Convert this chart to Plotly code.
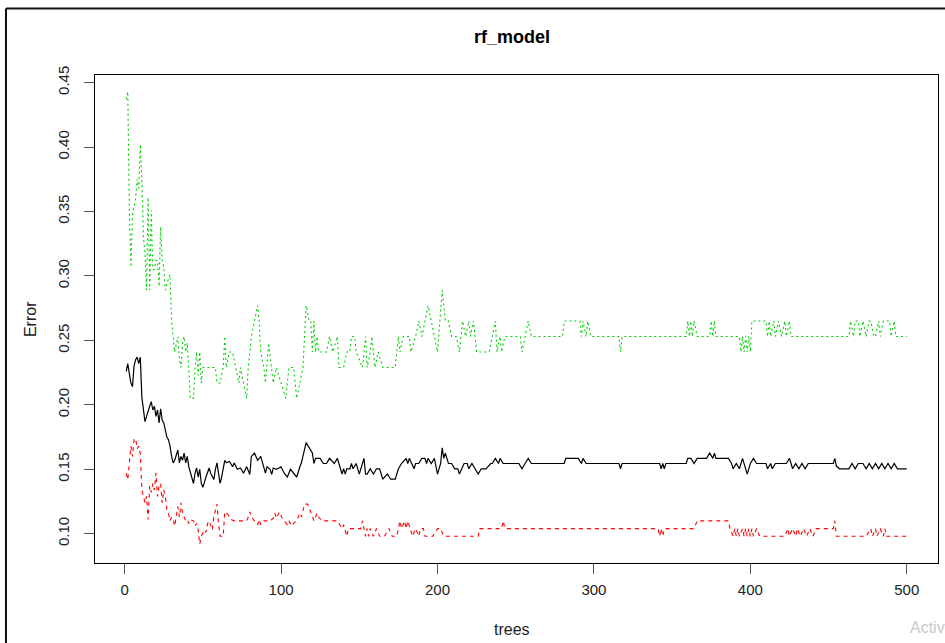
import plotly.graph_objects as go

# ---------------- data ----------------
title_text = "rf_model"
x_label = "trees"
y_label = "Error"
watermark = "Activ"
x_ticks = [0, 100, 200, 300, 400, 500]
y_ticks = [0.10, 0.15, 0.20, 0.25, 0.30, 0.35, 0.40, 0.45]
y_tick_labels = ["0.10", "0.15", "0.20", "0.25", "0.30", "0.35", "0.40", "0.45"]

# OOB error (black, solid)
oob_trees = [1, 2, 3, 4, 5, 6, 7, 8, 9, 10,
             11, 12, 13, 14, 15, 16, 17, 18, 19, 20,
             21, 22, 23, 24, 25, 26, 27, 28, 29, 30,
             31, 32, 34, 35, 36, 37, 38, 39, 40, 41,
             42, 43, 44, 45, 46, 47, 48, 49, 50, 52,
             53, 54, 55, 57, 58, 59, 60, 61, 62, 64,
             65, 67, 69, 70, 72, 74, 76, 78, 80, 81,
             83, 85, 87, 89, 90, 91, 93, 94, 95, 97,
             100, 102, 104, 106, 108, 110, 112, 113, 116, 118,
             120, 121, 122, 125, 127, 129, 131, 134, 136, 138,
             139, 140, 141, 142, 144, 145, 146, 148, 150, 151,
             153, 154, 155, 157, 159, 161, 163, 165, 168, 170,
             173, 175, 177, 180, 181, 182, 185, 186, 188, 190,
             192, 193, 194, 196, 198, 200, 202, 203, 204, 205,
             207, 209, 211, 213, 214, 217, 219, 220, 222, 224,
             226, 228, 231, 234, 235, 237, 239, 240, 242, 252,
             254, 256, 258, 260, 281, 282, 290, 292, 293, 295,
             316, 317, 318, 342, 343, 344, 345, 346, 359, 360,
             362, 364, 366, 372, 374, 376, 377, 378, 386, 388,
             389, 391, 393, 395, 397, 398, 400, 402, 404, 410,
             411, 413, 414, 416, 423, 425, 426, 427, 429, 431,
             433, 435, 437, 453, 454, 455, 457, 463, 465, 467,
             469, 472, 474, 476, 478, 480, 482, 484, 486, 488,
             490, 492, 494, 500]
oob_error = [0.226, 0.232, 0.224, 0.217, 0.214, 0.230, 0.235, 0.237, 0.232, 0.237,
             0.206, 0.196, 0.187, 0.191, 0.196, 0.199, 0.2025, 0.196, 0.199, 0.191,
             0.196, 0.186, 0.197, 0.188, 0.186, 0.181, 0.175, 0.173, 0.168, 0.160,
             0.155, 0.157, 0.165, 0.155, 0.160, 0.157, 0.1625, 0.155, 0.160, 0.152,
             0.147, 0.144, 0.139, 0.147, 0.151, 0.144, 0.150, 0.139, 0.136, 0.144,
             0.147, 0.151, 0.147, 0.142, 0.150, 0.155, 0.147, 0.139, 0.144, 0.157,
             0.155, 0.156, 0.152, 0.155, 0.150, 0.151, 0.147, 0.152, 0.146, 0.160,
             0.1625, 0.157, 0.160, 0.150, 0.147, 0.152, 0.150, 0.146, 0.151, 0.150,
             0.152, 0.147, 0.144, 0.150, 0.147, 0.144, 0.152, 0.155, 0.1707, 0.1667,
             0.1626, 0.1545, 0.1585, 0.1585, 0.1545, 0.1545, 0.1585, 0.1545, 0.1585, 0.1504,
             0.1463, 0.1504, 0.1463, 0.1504, 0.1504, 0.1545, 0.1504, 0.1545, 0.1463, 0.1504,
             0.1585, 0.1463, 0.1463, 0.1504, 0.1463, 0.1504, 0.1504, 0.1423, 0.1463, 0.1423,
             0.1423, 0.1504, 0.1545, 0.1585, 0.1545, 0.1585, 0.1504, 0.1545, 0.1545, 0.1585,
             0.1585, 0.1545, 0.1585, 0.1545, 0.1585, 0.1463, 0.1545, 0.1667, 0.1585, 0.1626,
             0.1545, 0.1545, 0.1504, 0.1504, 0.1463, 0.1545, 0.1545, 0.1504, 0.1545, 0.1504,
             0.1463, 0.1504, 0.1504, 0.1545, 0.1545, 0.1585, 0.1545, 0.1585, 0.1545, 0.1545,
             0.1504, 0.1545, 0.1585, 0.1545, 0.1545, 0.1585, 0.1585, 0.1545, 0.1585, 0.1545,
             0.1545, 0.1504, 0.1545, 0.1545, 0.1504, 0.1545, 0.1504, 0.1545, 0.1545, 0.1585,
             0.1585, 0.1545, 0.1585, 0.1585, 0.1626, 0.1585, 0.1626, 0.1585, 0.1585, 0.1545,
             0.1504, 0.1545, 0.1504, 0.1585, 0.1504, 0.1463, 0.1545, 0.1585, 0.1545, 0.1545,
             0.1504, 0.1545, 0.1504, 0.1545, 0.1545, 0.1585, 0.1545, 0.1504, 0.1545, 0.1504,
             0.1545, 0.1504, 0.1545, 0.1545, 0.1585, 0.1525, 0.1504, 0.1504, 0.1545, 0.1504,
             0.1545, 0.1545, 0.1504, 0.1545, 0.1504, 0.1545, 0.1504, 0.1545, 0.1504, 0.1545,
             0.1504, 0.1545, 0.1504, 0.1504]

# class 1 error (red, dashed)
class1_trees = [1, 2, 3, 4, 5, 6, 7, 8, 9, 10,
                11, 12, 13, 14, 15, 16, 17, 18, 19, 20,
                21, 22, 23, 24, 25, 26, 27, 28, 29, 30,
                31, 32, 34, 35, 36, 37, 38, 39, 40, 41,
                42, 44, 45, 46, 47, 48, 49, 51, 52, 53,
                54, 55, 56, 57, 58, 59, 60, 61, 63, 64,
                66, 68, 70, 78, 79, 80, 81, 83, 85, 86,
                87, 89, 93, 95, 96, 97, 99, 101, 102, 104,
                105, 107, 108, 110, 112, 113, 115, 117, 119, 121,
                123, 124, 126, 136, 139, 140, 142, 143, 151, 152,
                153, 154, 155, 156, 157, 159, 161, 163, 166, 169,
                171, 174, 176, 177, 179, 180, 181, 184, 186, 188,
                189, 191, 192, 194, 197, 200, 202, 204, 226, 227,
                241, 242, 243, 341, 342, 343, 344, 345, 364, 366,
                386, 387, 389, 390, 391, 392, 393, 395, 396, 397,
                398, 399, 400, 401, 402, 404, 406, 422, 424, 425,
                427, 429, 430, 432, 434, 436, 438, 440, 442, 453,
                454, 455, 474, 477, 478, 480, 481, 483, 485, 486,
                487, 500]
class1_error = [0.147, 0.142, 0.155, 0.168, 0.160, 0.173, 0.174, 0.166, 0.168, 0.162,
                0.134, 0.129, 0.124, 0.129, 0.111, 0.137, 0.132, 0.139, 0.134, 0.147,
                0.129, 0.137, 0.139, 0.124, 0.134, 0.129, 0.119, 0.116, 0.110, 0.113,
                0.111, 0.106, 0.121, 0.113, 0.124, 0.116, 0.113, 0.110, 0.111, 0.108,
                0.111, 0.110, 0.106, 0.108, 0.103, 0.092, 0.098, 0.103, 0.101, 0.108,
                0.110, 0.106, 0.103, 0.113, 0.117, 0.123, 0.108, 0.098, 0.098, 0.117,
                0.115, 0.111, 0.110, 0.110, 0.113, 0.117, 0.113, 0.110, 0.107, 0.111,
                0.107, 0.110, 0.110, 0.112, 0.116, 0.112, 0.117, 0.111, 0.110, 0.107,
                0.110, 0.106, 0.108, 0.110, 0.116, 0.113, 0.123, 0.123, 0.116, 0.110,
                0.116, 0.113, 0.110, 0.110, 0.104, 0.107, 0.098, 0.104, 0.104, 0.110,
                0.104, 0.098, 0.104, 0.098, 0.104, 0.098, 0.104, 0.098, 0.098, 0.104,
                0.098, 0.098, 0.110, 0.104, 0.110, 0.104, 0.110, 0.098, 0.104, 0.098,
                0.104, 0.104, 0.098, 0.098, 0.098, 0.104, 0.104, 0.098, 0.098, 0.104,
                0.104, 0.110, 0.104, 0.104, 0.098, 0.104, 0.098, 0.104, 0.104, 0.110,
                0.110, 0.104, 0.098, 0.104, 0.098, 0.104, 0.098, 0.104, 0.098, 0.104,
                0.098, 0.104, 0.098, 0.104, 0.098, 0.104, 0.098, 0.098, 0.104, 0.098,
                0.104, 0.098, 0.104, 0.098, 0.104, 0.098, 0.104, 0.098, 0.104, 0.104,
                0.110, 0.098, 0.098, 0.104, 0.098, 0.104, 0.098, 0.104, 0.098, 0.104,
                0.098, 0.098]

# class 2 error (green, dotted)
class2_trees = [1, 2, 3, 4, 5, 6, 7, 8, 9, 10,
                11, 12, 13, 14, 15, 16, 17, 18, 19, 20,
                21, 22, 23, 24, 25, 26, 27, 28, 29, 30,
                31, 32, 34, 35, 36, 37, 38, 39, 40, 41,
                42, 44, 45, 46, 47, 48, 49, 50, 58, 59,
                61, 63, 64, 65, 67, 69, 71, 73, 74, 76,
                78, 79, 81, 83, 85, 86, 87, 89, 90, 92,
                94, 95, 97, 100, 103, 105, 108, 110, 112, 114,
                116, 118, 119, 120, 121, 122, 123, 124, 129, 131,
                133, 136, 137, 140, 142, 144, 145, 147, 148, 152,
                154, 155, 157, 158, 160, 162, 165, 173, 175, 176,
                178, 182, 183, 186, 188, 190, 192, 194, 196, 198,
                200, 203, 205, 207, 209, 212, 214, 216, 218, 220,
                221, 223, 225, 233, 235, 237, 238, 240, 241, 243,
                253, 254, 256, 258, 260, 280, 281, 291, 292, 293,
                295, 296, 298, 316, 317, 318, 359, 360, 361, 362,
                363, 364, 366, 374, 375, 376, 377, 378, 393, 394,
                395, 396, 397, 398, 399, 400, 401, 410, 411, 412,
                413, 415, 416, 418, 420, 422, 423, 425, 426, 463,
                464, 466, 467, 469, 470, 472, 474, 476, 477, 479,
                480, 482, 483, 485, 489, 490, 492, 493, 494, 500]
class2_error = [0.437, 0.443, 0.351, 0.307, 0.347, 0.355, 0.360, 0.375, 0.368, 0.402,
                0.375, 0.330, 0.318, 0.289, 0.361, 0.289, 0.351, 0.305, 0.305, 0.312,
                0.312, 0.292, 0.338, 0.312, 0.307, 0.289, 0.294, 0.298, 0.301, 0.265,
                0.253, 0.241, 0.253, 0.235, 0.229, 0.248, 0.253, 0.241, 0.248, 0.229,
                0.205, 0.205, 0.229, 0.241, 0.223, 0.241, 0.217, 0.229, 0.229, 0.217,
                0.217, 0.229, 0.253, 0.229, 0.241, 0.241, 0.229, 0.217, 0.229, 0.217,
                0.205, 0.229, 0.253, 0.265, 0.277, 0.265, 0.241, 0.229, 0.217, 0.248,
                0.229, 0.217, 0.229, 0.217, 0.205, 0.229, 0.229, 0.205, 0.217, 0.229,
                0.277, 0.265, 0.265, 0.241, 0.265, 0.241, 0.253, 0.241, 0.241, 0.253,
                0.241, 0.253, 0.229, 0.229, 0.241, 0.241, 0.253, 0.253, 0.241, 0.229,
                0.253, 0.229, 0.241, 0.253, 0.229, 0.241, 0.229, 0.229, 0.253, 0.241,
                0.253, 0.253, 0.241, 0.253, 0.265, 0.253, 0.265, 0.277, 0.265, 0.253,
                0.241, 0.289, 0.265, 0.265, 0.253, 0.253, 0.241, 0.265, 0.253, 0.265,
                0.253, 0.265, 0.241, 0.241, 0.253, 0.265, 0.241, 0.253, 0.241, 0.253,
                0.253, 0.241, 0.253, 0.265, 0.253, 0.253, 0.265, 0.265, 0.253, 0.265,
                0.253, 0.265, 0.253, 0.253, 0.241, 0.253, 0.253, 0.265, 0.253, 0.265,
                0.253, 0.265, 0.253, 0.253, 0.265, 0.253, 0.265, 0.253, 0.253, 0.241,
                0.253, 0.241, 0.253, 0.241, 0.253, 0.241, 0.265, 0.265, 0.253, 0.265,
                0.253, 0.265, 0.253, 0.265, 0.253, 0.265, 0.253, 0.265, 0.253, 0.253,
                0.265, 0.253, 0.265, 0.265, 0.253, 0.265, 0.253, 0.265, 0.265, 0.253,
                0.253, 0.265, 0.253, 0.265, 0.265, 0.253, 0.265, 0.253, 0.253, 0.253]

assert len(oob_trees) == len(oob_error)
assert len(class1_trees) == len(class1_error)
assert len(class2_trees) == len(class2_error)

# ---------------- figure ----------------
FONT = "Liberation Sans, Arial, sans-serif"

fig = go.Figure()
fig.add_trace(go.Scatter(x=oob_trees, y=oob_error, mode="lines", name="OOB",
                         line=dict(color="#000000", width=1.2)))
fig.add_trace(go.Scatter(x=class1_trees, y=class1_error, mode="lines", name="1",
                         line=dict(color="#FF0000", width=1.1, dash="4px,4px")))
fig.add_trace(go.Scatter(x=class2_trees, y=class2_error, mode="lines", name="2",
                         line=dict(color="#00CD00", width=1.1, dash="2px,3px")))

axis_common = dict(showgrid=False, zeroline=False, showline=True, linecolor="#000000",
                   linewidth=1, mirror=True, ticks="outside", ticklen=10,
                   tickcolor="#555555", tickwidth=1,
                   tickfont=dict(family=FONT, size=15, color="#222222"))

fig.update_layout(
    width=945, height=643,
    margin=dict(l=95, r=7, t=75, b=80),
    paper_bgcolor="white", plot_bgcolor="white",
    showlegend=False,
    xaxis=dict(range=[-18.96, 519.96], tickvals=x_ticks,
               ticklabelstandoff=3, **axis_common),
    yaxis=dict(range=[0.0773, 0.4559], tickvals=y_ticks, ticktext=y_tick_labels,
               tickangle=-90, ticklabelstandoff=9, **axis_common),
    annotations=[
        dict(text="<b>" + title_text + "</b>", xref="paper", yref="paper",
             x=0.495, y=1.078, xanchor="center", yanchor="middle", showarrow=False,
             font=dict(family=FONT, size=18, color="#000000")),
        dict(text=x_label, xref="paper", yref="paper", x=0.495, y=-0.137,
             xanchor="center", yanchor="middle",
             showarrow=False, font=dict(family=FONT, size=16, color="#222222")),
        dict(text=y_label, xref="paper", yref="paper", x=-0.077, y=0.5,
             xanchor="center", yanchor="middle",
             textangle=-90, showarrow=False,
             font=dict(family=FONT, size=16, color="#222222")),
        dict(text=watermark, xref="paper", yref="paper", x=0.9645, y=-0.133,
             xanchor="left", yanchor="middle", showarrow=False,
             font=dict(family=FONT, size=16, color="#c8c8c8")),
    ],
    shapes=[
        dict(type="line", xref="paper", yref="paper", x0=-0.1056, x1=1.02,
             y0=1.1363, y1=1.1363, line=dict(color="#111111", width=2)),
        dict(type="line", xref="paper", yref="paper", x0=-0.1056, x1=-0.1056,
             y0=1.1363, y1=-0.2, line=dict(color="#111111", width=2)),
    ],
)

fig.write_html(
    "out.html",
    config={"displayModeBar": False},
    post_script="document.body.style.margin='0';document.body.style.overflow='hidden';",
)
